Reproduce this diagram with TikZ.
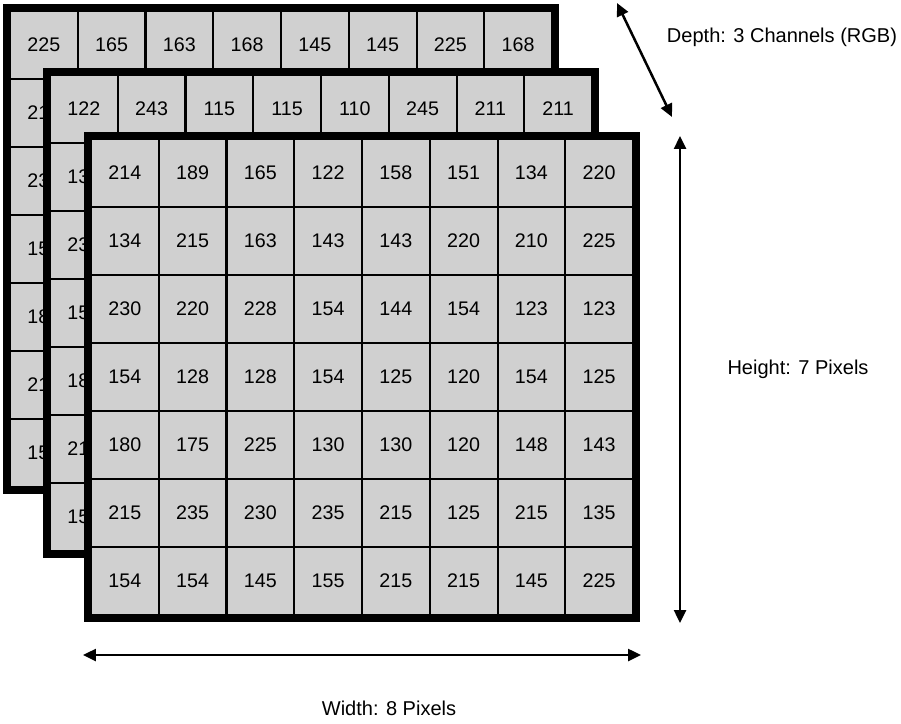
\documentclass[tikz,border=0pt]{standalone}
\usepackage{fontspec}
\setmainfont{Liberation Sans}
\usetikzlibrary{arrows.meta}
\definecolor{cellgray}{RGB}{208,208,208}

\begin{document}
\begin{tikzpicture}[x=0.02cm, y=-0.02cm,
    cell/.style={draw, line width=0.04cm, fill=cellgray, minimum width=1.355cm,
      minimum height=1.36cm, inner sep=0pt, outer sep=0pt, font=\fontsize{11.2}{13}\selectfont},
    frame/.style={draw, line width=0.14cm},
    dim/.style={line width=0.05cm, {Triangle[length=0.26cm,width=0.24cm]}-{Triangle[length=0.26cm,width=0.24cm]}},
    lbl/.style={inner sep=0pt, font=\fontsize{11.4}{14}\selectfont}]
  \useasboundingbox (0,0) rectangle (901,723);

  % red channel (back)
  \begin{scope}[shift={(3,4)}]
    \foreach \vals [count=\r] in {{225,165,163,168,145,145,225,168},{215,,,,,,,},{230,,,,,,,},
        {154,,,,,,,},{185,,,,,,,},{215,,,,,,,},{154,,,,,,,}}
      \foreach \v [count=\c] in \vals
        \node[cell] (r-\r-\c) at ({7+67.75*(\c-0.5)},{7+68*(\r-0.5)}) {\v};
    \draw[frame] (3.5,3.5) rectangle (552.5,486.5);
  \end{scope}

  % green channel (middle)
  \begin{scope}[shift={(43,68)}]
    \foreach \vals [count=\r] in {{122,243,115,115,110,245,211,211},{134,,,,,,,},{230,,,,,,,},
        {154,,,,,,,},{180,,,,,,,},{215,,,,,,,},{154,,,,,,,}}
      \foreach \v [count=\c] in \vals
        \node[cell] (g-\r-\c) at ({7+67.75*(\c-0.5)},{7+68*(\r-0.5)}) {\v};
    \draw[frame] (3.5,3.5) rectangle (552.5,486.5);
  \end{scope}

  % blue channel (front)
  \begin{scope}[shift={(84,132)}]
    \foreach \vals [count=\r] in {{214,189,165,122,158,151,134,220},
        {134,215,163,143,143,220,210,225},
        {230,220,228,154,144,154,123,123},
        {154,128,128,154,125,120,154,125},
        {180,175,225,130,130,120,148,143},
        {215,235,230,235,215,125,215,135},
        {154,154,145,155,215,215,145,225}}
      \foreach \v [count=\c] in \vals
        \node[cell] (b-\r-\c) at ({7+67.75*(\c-0.5)},{7+68*(\r-0.5)}) {\v};
    \draw[frame] (3.5,3.5) rectangle (552.5,486.5);
  \end{scope}

  % dimensions
  \coordinate (wl) at (83,655);
  \coordinate (wr) at (641,655);
  \coordinate (ht) at (680,136);
  \coordinate (hb) at (680,623);
  \coordinate (dt) at (617,3);
  \coordinate (db) at (672,117);
  \draw[dim] (wl) -- (wr);
  \draw[dim] (ht) -- (hb);
  \draw[dim] (dt) -- (db);
  \node[lbl] (wtxt) at (389,708) {Width: 8 Pixels};
  \node[lbl] (htxt) at (798,369) {Height: 7 Pixels};
  \node[lbl] (dtxt) at (782,37) {Depth: 3 Channels (RGB)};
\end{tikzpicture}
\end{document}
